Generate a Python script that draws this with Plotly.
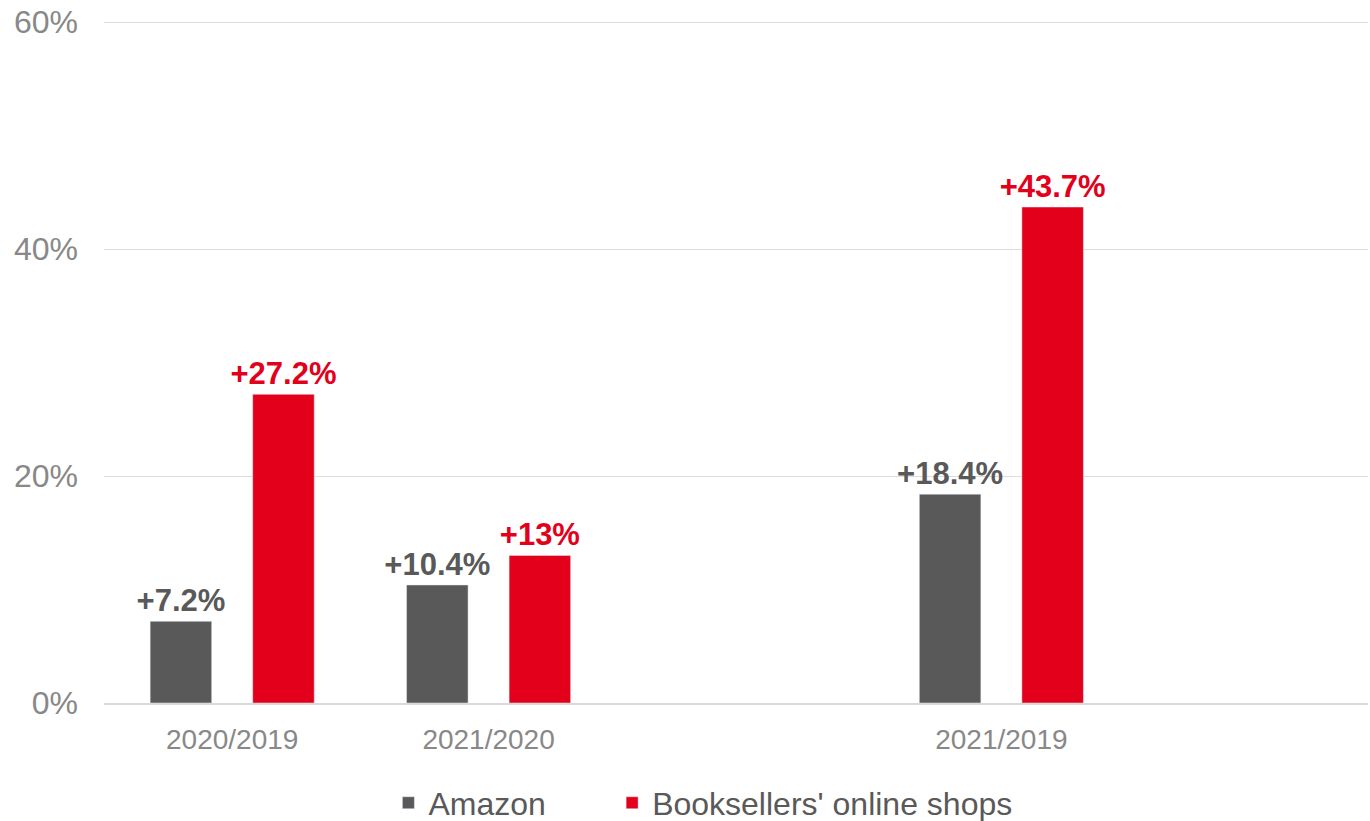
import plotly.graph_objects as go

categories = ["2020/2019", "2021/2020", " ", "2021/2019", "  "]
bar_categories = ["2020/2019", "2021/2020", "2021/2019"]
amazon_values = [7.2, 10.4, 18.4]
amazon_labels = ["+7.2%", "+10.4%", "+18.4%"]
booksellers_values = [27.2, 13.0, 43.7]
booksellers_labels = ["+27.2%", "+13%", "+43.7%"]
y_tickvals = [0, 20, 40, 60]
y_ticktext = ["0%", "20%", "40%", "60%"]

GREY = "#595959"
RED = "#E2001A"
FONT = "Liberation Sans, Arial, sans-serif"

fig = go.Figure()
fig.add_trace(go.Bar(
    name="Amazon", x=bar_categories, y=amazon_values,
    marker_color=GREY, text=amazon_labels, textposition="outside",
    constraintext="none",
    textfont=dict(family=FONT, size=31, color=GREY, weight="bold"),
    cliponaxis=False, legend="legend",
))
fig.add_trace(go.Bar(
    name="Booksellers' online shops", x=bar_categories, y=booksellers_values,
    marker_color=RED, text=booksellers_labels, textposition="outside",
    constraintext="none",
    textfont=dict(family=FONT, size=31, color=RED, weight="bold"),
    cliponaxis=False, legend="legend2",
))

legend_common = dict(
    orientation="h", yref="container", y=0.022, yanchor="middle", xanchor="left",
    font=dict(family=FONT, size=32, color=GREY),
    bgcolor="rgba(0,0,0,0)",
)

fig.update_layout(
    width=1370, height=821,
    margin=dict(l=104, r=2, t=20, b=118),
    paper_bgcolor="white", plot_bgcolor="white",
    barmode="group", bargap=0.2, bargroupgap=0.4,
    font=dict(family=FONT, color="#888888"),
    showlegend=True,
    legend=dict(x=0.225, **legend_common),
    legend2=dict(x=0.402, **legend_common),
    xaxis=dict(
        type="category", categoryorder="array", categoryarray=categories,
        range=[-0.5, 4.43],
        tickfont=dict(family=FONT, size=28, color="#888888"),
        showline=True, linecolor="#d9d9d9", linewidth=2,
        ticks="", showgrid=False, automargin=False,
        ticklabelstandoff=10,
    ),
    yaxis=dict(
        range=[0, 60.18], tickvals=y_tickvals, ticktext=y_ticktext,
        tickfont=dict(family=FONT, size=32, color="#888888"),
        showgrid=True, gridcolor="#dddddd", gridwidth=1,
        zeroline=False, showline=False, ticks="", automargin=False,
        ticklabelstandoff=25,
    ),
)

post = ("document.body.style.margin='0';"
        "Plotly.relayout('{plot_id}', {width: 1370, height: 821});")
fig.write_html("out.html", post_script=post, config={"displayModeBar": False})
